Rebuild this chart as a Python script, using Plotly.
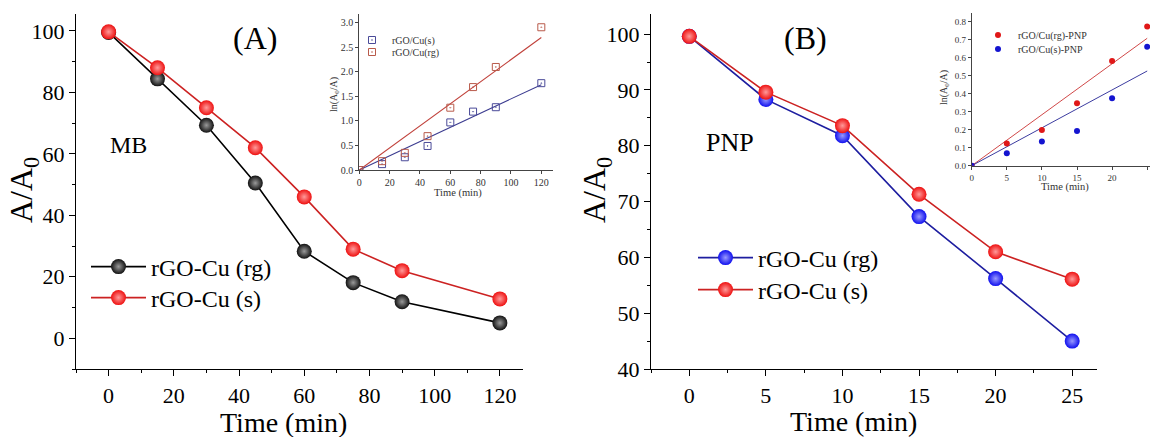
import plotly.graph_objects as go

# ---------------- data ----------------
# Panel A (MB)
time_a = [0, 15, 30, 45, 60, 75, 90, 120]
mb_rg = [99.5, 84.4, 69.3, 50.5, 28.3, 18.1, 11.9, 5.0]
mb_s = [99.7, 88.0, 75.0, 62.0, 46.0, 29.0, 22.0, 12.8]

# Panel B (PNP)
time_b = [0, 5, 10, 15, 20, 25]
pnp_rg = [99.6, 88.3, 81.8, 67.3, 56.2, 45.0]
pnp_s = [99.6, 89.6, 83.6, 71.3, 61.0, 56.1]

# Inset A: ln(A0/A) kinetics
inset_a_t = [0, 15, 30, 45, 60, 75, 90, 120]
inset_a_s = [0.0, 0.12, 0.26, 0.49, 0.97, 1.19, 1.28, 1.77]
inset_a_rg = [0.0, 0.18, 0.35, 0.69, 1.27, 1.69, 2.10, 2.91]
fit_a_t = [0, 120]
fit_a_s = [0.0, 1.74]
fit_a_rg = [0.0, 2.70]

# Inset B: ln(A0/A) kinetics
inset_b_t = [0, 5, 10, 15, 20, 25]
inset_b_rg = [0.0, 0.124, 0.199, 0.347, 0.583, 0.774]
inset_b_s = [0.0, 0.069, 0.135, 0.193, 0.375, 0.662]
fit_b_t = [0, 25]
fit_b_rg = [0.0, 0.709]
fit_b_s = [0.0, 0.527]

SERIF = "Liberation Serif"
W, H = 1150, 437


def px(x):
    return x / W


def py(y):
    return 1 - y / H


fig = go.Figure()


def ball(color, center):
    return dict(color=color, size=15, line=dict(width=0),
                gradient=dict(type="radial", color=center))


# Panel A
fig.add_trace(go.Scatter(x=time_a, y=mb_rg, mode="lines+markers", name="rGO-Cu (rg)",
                         line=dict(color="black", width=1.6), marker=ball("#111111", "#9a9a9a"),
                         xaxis="x", yaxis="y", legend="legend"))
fig.add_trace(go.Scatter(x=time_a, y=mb_s, mode="lines+markers", name="rGO-Cu (s)",
                         line=dict(color="#cc2222", width=1.6), marker=ball("#ee1111", "#ff9a9a"),
                         xaxis="x", yaxis="y", legend="legend2"))

# Panel B
fig.add_trace(go.Scatter(x=time_b, y=pnp_rg, mode="lines+markers", name="rGO-Cu (rg)",
                         line=dict(color="#1e1ea0", width=1.6), marker=ball("#1010ee", "#9a9aff"),
                         xaxis="x2", yaxis="y2", legend="legend3"))
fig.add_trace(go.Scatter(x=time_b, y=pnp_s, mode="lines+markers", name="rGO-Cu (s)",
                         line=dict(color="#cc2222", width=1.6), marker=ball("#ee1111", "#ff9a9a"),
                         xaxis="x2", yaxis="y2", legend="legend4"))

# Inset A
fig.add_trace(go.Scatter(x=fit_a_t, y=fit_a_s, mode="lines", showlegend=False,
                         line=dict(color="#3c3c90", width=1.1), xaxis="x3", yaxis="y3"))
fig.add_trace(go.Scatter(x=fit_a_t, y=fit_a_rg, mode="lines", showlegend=False,
                         line=dict(color="#c0403a", width=1.1), xaxis="x3", yaxis="y3"))
fig.add_trace(go.Scatter(x=inset_a_t, y=inset_a_s, mode="markers", name="rGO/Cu(s)",
                         marker=dict(symbol="square-open-dot", size=7, color="#4a4a98", line=dict(width=1)),
                         xaxis="x3", yaxis="y3", legend="legend5"))
fig.add_trace(go.Scatter(x=inset_a_t, y=inset_a_rg, mode="markers", name="rGO/Cu(rg)",
                         marker=dict(symbol="square-open-dot", size=7, color="#b85a4a", line=dict(width=1)),
                         xaxis="x3", yaxis="y3", legend="legend6"))

# Inset B
fig.add_trace(go.Scatter(x=fit_b_t, y=fit_b_rg, mode="lines", showlegend=False,
                         line=dict(color="#d04848", width=1.0), xaxis="x4", yaxis="y4"))
fig.add_trace(go.Scatter(x=fit_b_t, y=fit_b_s, mode="lines", showlegend=False,
                         line=dict(color="#3c3ca0", width=1.0), xaxis="x4", yaxis="y4"))
fig.add_trace(go.Scatter(x=inset_b_t, y=inset_b_rg, mode="markers", name="rGO/Cu(rg)-PNP",
                         marker=dict(symbol="circle", size=6, color="#e01818"),
                         xaxis="x4", yaxis="y4", legend="legend7"))
fig.add_trace(go.Scatter(x=inset_b_t, y=inset_b_s, mode="markers", name="rGO/Cu(s)-PNP",
                         marker=dict(symbol="circle", size=6, color="#1414d0"),
                         xaxis="x4", yaxis="y4", legend="legend8"))

main_axis = dict(showline=True, linecolor="black", linewidth=1.4, showgrid=False, zeroline=False,
                 ticks="outside", ticklen=6, tickwidth=1.3, tickcolor="black", automargin=False,
                 tickfont=dict(family=SERIF, size=22, color="black"), mirror=False)
inset_axis = dict(showline=True, linecolor="#444444", linewidth=1, showgrid=False, zeroline=False,
                  ticks="outside", ticklen=3, tickwidth=0.8, tickcolor="#444444", automargin=False,
                  tickfont=dict(family=SERIF, size=10, color="#333333"))


def leg(x, y, size, color="black"):
    return dict(x=px(x), y=py(y), xanchor="left", yanchor="middle", bgcolor="rgba(0,0,0,0)",
                font=dict(family=SERIF, size=size, color=color), itemwidth=55 if size > 20 else 30,
                tracegroupgap=0, borderwidth=0)


fig.update_layout(
    template="none",
    width=W, height=H, margin=dict(l=0, r=0, t=0, b=0, pad=0, autoexpand=False),
    font=dict(family=SERIF, color="black"),
    paper_bgcolor="white", plot_bgcolor="rgba(0,0,0,0)",
    xaxis=dict(main_axis, domain=[px(76), px(522.7)], range=[-10, 127], dtick=20, tick0=0,
               minor=dict(dtick=10, ticklen=3, ticks="outside", tickcolor="black"),
               anchor="y"),
    yaxis=dict(main_axis, domain=[py(369), py(14)], range=[-10, 105.5], dtick=20, tick0=0,
               minor=dict(dtick=10, ticklen=3, ticks="outside", tickcolor="black"),
               anchor="x"),
    xaxis2=dict(main_axis, domain=[px(651), px(1096.7)], range=[-2.5, 26.6], dtick=5, tick0=0,
                minor=dict(dtick=2.5, ticklen=3, ticks="outside", tickcolor="black"),
                anchor="y2"),
    yaxis2=dict(main_axis, domain=[py(369), py(14)], range=[40, 103.6], dtick=10, tick0=0,
                minor=dict(dtick=5, ticklen=3, ticks="outside", tickcolor="black"),
                anchor="x2"),
    xaxis3=dict(inset_axis, domain=[px(359.3), px(552.7)], range=[0, 127.5], dtick=20, tick0=0,
                anchor="y3"),
    yaxis3=dict(inset_axis, domain=[py(170), py(14)], range=[0, 3.18], dtick=0.5, tick0=0,
                tickformat=".1f", anchor="x3"),
    xaxis4=dict(inset_axis, domain=[px(971.7), 1.0], range=[0, 25.4], dtick=5, tick0=0,
                anchor="y4", tickfont=dict(family=SERIF, size=9, color="#333333")),
    yaxis4=dict(inset_axis, domain=[py(165.7), py(13.3)], range=[0, 0.848], dtick=0.1, tick0=0,
                tickformat=".1f", anchor="x4", tickfont=dict(family=SERIF, size=9, color="#333333")),
    legend=leg(86, 267, 24),
    legend2=leg(86, 298, 24),
    legend3=leg(693, 258, 24),
    legend4=leg(693, 290, 24),
    legend5=leg(352, 40, 10, "#333333"),
    legend6=leg(352, 52, 10, "#333333"),
    legend7=leg(978, 35, 10, "#333333"),
    legend8=leg(978, 49, 10, "#333333"),
    showlegend=True,
    hovermode=False,
)

ann = []


def text(x, y, s, size, angle=0, color="black"):
    ann.append(dict(x=px(x), y=py(y), xref="paper", yref="paper", text=s, showarrow=False,
                    textangle=angle, xanchor="center", yanchor="middle",
                    font=dict(family=SERIF, size=size, color=color)))


text(255, 38, "(A)", 32)
text(128, 145, "MB", 24)
text(805, 38, "(B)", 32)
text(730, 143, "PNP", 26)
text(24, 190, "A/A<sub>0</sub>", 32, -90)
text(597, 190, "A/A<sub>0</sub>", 32, -90)
text(283, 422, "Time (min)", 28)
text(853, 421, "Time (min)", 28)
text(335, 95, "ln(A<sub>0</sub>/A)", 10, -90, "#333333")
text(458, 193, "Time (min)", 10.5, 0, "#333333")
text(944, 88, "ln(A<sub>0</sub>/A)", 10, -90, "#333333")
text(1065, 187, "Time (min)", 10.5, 0, "#333333")
fig.update_layout(annotations=ann)

fig.write_html("out.html", config={"displayModeBar": False},
               post_script="document.body.style.margin='0px';document.body.style.overflow='hidden';")
